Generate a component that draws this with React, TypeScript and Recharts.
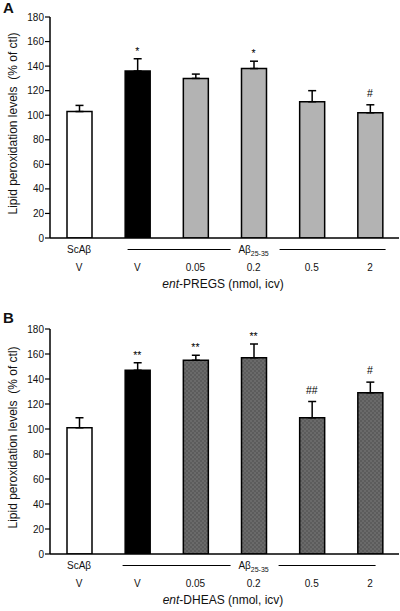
import React from 'react';
import { ComposedChart, Bar, Cell, ErrorBar, Line, LabelList, XAxis, YAxis } from 'recharts';

const categories = ['V', 'V', '0.05', '0.2', '0.5', '2'];
const yTicks = [0, 20, 40, 60, 80, 100, 120, 140, 160, 180];

const pregsValues = [103, 136, 130, 138, 111, 102];
const pregsErrors = [5, 10, 3.5, 6, 9, 6.5];
const pregsSig = ['', '*', '', '*', '', '#'];

const dheasValues = [101, 147, 155, 157, 109, 129];
const dheasErrors = [8, 6, 4, 11, 13, 8.5];
const dheasSig = ['', '**', '**', '**', '##', '#'];

const FONT = '"Liberation Sans", Arial, Helvetica, sans-serif';
const INK = '#111';

const pregsFills = ['#ffffff', '#000000', '#b3b3b3', '#b3b3b3', '#b3b3b3', '#b3b3b3'];
const dheasFills = ['#ffffff', '#000000', 'url(#dotsB)', 'url(#dotsB)', 'url(#dotsB)', 'url(#dotsB)'];

function buildRows(values: number[], errors: number[], sig: string[]) {
  return categories.map((c, i) => ({
    idx: String(i),
    name: c,
    value: values[i],
    err: [0, errors[i]],
    top: values[i] + errors[i],
    sig: sig[i],
  }));
}

const makeTick = (left: [number, number], right: [number, number]) => (props: any) => {
  const { x, y, payload } = props;
  const i = Number(payload.value);
  return (
    <g>
      <text x={x} y={y + 32.5} textAnchor="middle" fontSize={10} fill={INK} fontFamily={FONT}>
        {categories[i]}
      </text>
      {i === 0 && (
        <text x={x} y={y + 15} textAnchor="middle" fontSize={10} fill={INK} fontFamily={FONT}>
          ScAβ
        </text>
      )}
      {i === 3 && (
        <g>
          <text x={x} y={y + 15} textAnchor="middle" fontSize={10} fill={INK} fontFamily={FONT}>
            Aβ<tspan fontSize={7} dy={3}>25-35</tspan>
          </text>
          <line x1={x + left[0]} x2={x + left[1]} y1={y + 11.5} y2={y + 11.5} stroke="#000" strokeWidth={1.2} />
          <line x1={x + right[0]} x2={x + right[1]} y1={y + 11.5} y2={y + 11.5} stroke="#000" strokeWidth={1.2} />
        </g>
      )}
    </g>
  );
};

const SigLabel = (props: any) => {
  const { x, y, value } = props;
  if (!value) return null;
  const off = String(value).includes('#') ? 8 : 4;
  return (
    <text x={x} y={y - off} textAnchor="middle" fontSize={10.5} fill="#000" fontFamily={FONT}>
      {value}
    </text>
  );
};

const XTitle = (props: any) => {
  const vb = props.viewBox || { x: 50, y: 238, width: 348, height: 60 };
  const cx = vb.x + vb.width / 2 - 1.5;
  return (
    <text x={cx} y={vb.y + 50} textAnchor="middle" fontSize={12} fill={INK} fontFamily={FONT}>
      <tspan fontStyle="italic">ent</tspan>-{props.drug} (nmol, icv)
    </text>
  );
};

const YTitle = (props: any) => {
  const vb = props.viewBox || { x: 0, y: 17, width: 50, height: 221 };
  const cx = vb.x + 17;
  const cy = vb.y + vb.height / 2 - 4;
  return (
    <text
      x={cx}
      y={cy}
      textAnchor="middle"
      fontSize={12}
      fill={INK}
      fontFamily={FONT}
      transform={`rotate(-90, ${cx}, ${cy})`}
    >
      Lipid peroxidation levels{'\u00a0\u00a0'}(% of ctl)
    </text>
  );
};

type PanelProps = {
  values: number[];
  errors: number[];
  sig: string[];
  fills: string[];
  drug: string;
  height: number;
  marginTop: number;
  xAxisHeight: number;
  left: [number, number];
  right: [number, number];
};

function Panel(p: PanelProps) {
  const data = buildRows(p.values, p.errors, p.sig);
  return (
    <ComposedChart
      width={400}
      height={p.height}
      data={data}
      margin={{ top: p.marginTop, right: 1, bottom: 0, left: 0 }}
      barCategoryGap="28%"
    >
      <defs>
        <pattern id="dotsB" width="4" height="4" patternUnits="userSpaceOnUse">
          <rect width="4" height="4" fill="#6a6a6a" />
          <rect width="2" height="2" fill="#5c5c5c" />
          <rect x="2" y="2" width="2" height="2" fill="#5c5c5c" />
        </pattern>
      </defs>
      <XAxis
        dataKey="idx"
        type="category"
        interval={0}
        height={p.xAxisHeight}
        tickSize={0}
        tickMargin={0}
        tickLine={false}
        axisLine={{ stroke: '#000', strokeWidth: 1.5 }}
        tick={makeTick(p.left, p.right)}
        label={<XTitle drug={p.drug} />}
      />
      <YAxis
        width={50}
        domain={[0, 180]}
        ticks={yTicks}
        type="number"
        allowDataOverflow
        tickSize={5}
        tickMargin={1}
        axisLine={{ stroke: '#000', strokeWidth: 1.5 }}
        tickLine={{ stroke: '#000', strokeWidth: 1.2 }}
        tick={{ fontSize: 10, fill: INK, fontFamily: FONT }}
        label={<YTitle />}
      />
      <Bar dataKey="value" barSize={25} stroke="#000" strokeWidth={1.5} isAnimationActive={false}>
        {data.map((d, i) => (
          <Cell key={d.idx} fill={p.fills[i]} />
        ))}
        <ErrorBar dataKey="err" width={4} stroke="#000" strokeWidth={1.5} direction="y" isAnimationActive={false} />
      </Bar>
      <Line
        dataKey="top"
        stroke="none"
        dot={false}
        activeDot={false}
        legendType="none"
        isAnimationActive={false}
      >
        <LabelList dataKey="sig" content={<SigLabel />} />
      </Line>
    </ComposedChart>
  );
}

export default function App() {
  return (
    <div style={{ position: 'absolute', left: 0, top: 0, width: 400, height: 611, background: '#fff' }}>
      <div style={{ position: 'absolute', left: 0, top: 0 }}>
        <Panel
          values={pregsValues}
          errors={pregsErrors}
          sig={pregsSig}
          fills={pregsFills}
          drug="PREGS"
          height={300}
          marginTop={17}
          xAxisHeight={62}
          left={[-126, -23]}
          right={[26, 132]}
        />
      </div>
      <div style={{ position: 'absolute', left: 0, top: 300 }}>
        <Panel
          values={dheasValues}
          errors={dheasErrors}
          sig={dheasSig}
          fills={dheasFills}
          drug="DHEAS"
          height={311}
          marginTop={29}
          xAxisHeight={57}
          left={[-131, -23]}
          right={[25, 122]}
        />
      </div>
      <div style={{ position: 'absolute', left: 3, top: -1, fontFamily: FONT, fontWeight: 'bold', fontSize: 15, color: INK }}>A</div>
      <div style={{ position: 'absolute', left: 3, top: 309, fontFamily: FONT, fontWeight: 'bold', fontSize: 15, color: INK }}>B</div>
    </div>
  );
}
